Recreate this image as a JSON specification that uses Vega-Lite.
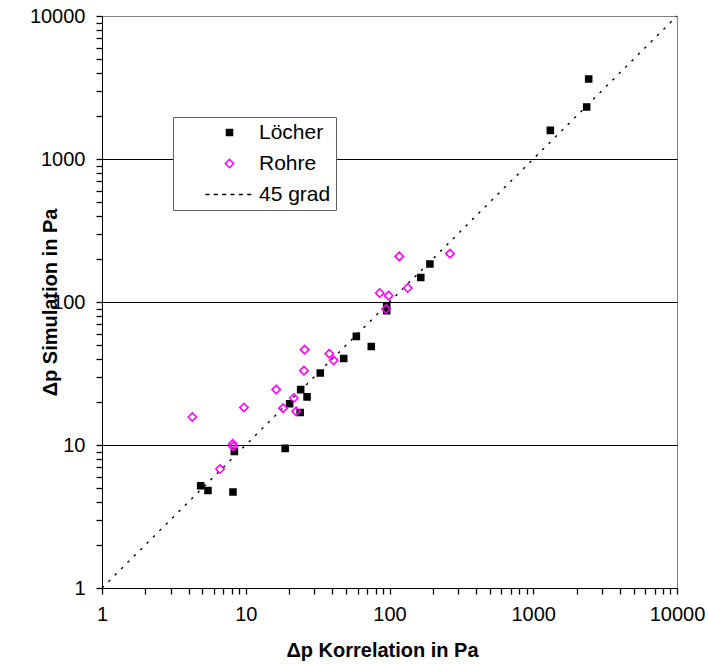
{
  "$schema": "https://vega.github.io/schema/vega-lite/v6.json",
  "width": 575,
  "height": 572,
  "autosize": {"type": "none"},
  "padding": {"left": 102, "top": 16, "right": 31, "bottom": 76},
  "background": "white",
  "config": {
    "font": "Liberation Sans",
    "view": {"stroke": "#808080", "strokeWidth": 1},
    "axis": {
      "domainColor": "black",
      "domainWidth": 1,
      "labelFont": "Liberation Sans",
      "labelFontSize": 20,
      "labelColor": "black",
      "titleFont": "Liberation Sans",
      "titleFontSize": 20,
      "titleFontWeight": "bold",
      "titleColor": "black"
    },
    "legend": {
      "symbolSize": 49,
      "symbolStrokeWidth": 1.6,
      "labelFont": "Liberation Sans",
      "labelFontSize": 21,
      "labelColor": "black"
    }
  },
  "datasets": {
    "messwerte": [
      {"series": "Löcher", "x": 191, "y": 184.5},
      {"series": "Löcher", "x": 165, "y": 148.6},
      {"series": "Löcher", "x": 95.6, "y": 93.2},
      {"series": "Löcher", "x": 95.6, "y": 87},
      {"series": "Löcher", "x": 58.8, "y": 57.5},
      {"series": "Löcher", "x": 74.7, "y": 48.9},
      {"series": "Löcher", "x": 48.0, "y": 40.3},
      {"series": "Löcher", "x": 33.0, "y": 31.9},
      {"series": "Löcher", "x": 24.1, "y": 24.4},
      {"series": "Löcher", "x": 26.7, "y": 21.7},
      {"series": "Löcher", "x": 20.2, "y": 19.4},
      {"series": "Löcher", "x": 23.9, "y": 16.9},
      {"series": "Löcher", "x": 18.8, "y": 9.47},
      {"series": "Löcher", "x": 8.33, "y": 9.02},
      {"series": "Löcher", "x": 4.86, "y": 5.19},
      {"series": "Löcher", "x": 5.46, "y": 4.81},
      {"series": "Löcher", "x": 8.15, "y": 4.69},
      {"series": "Löcher", "x": 1315, "y": 1585},
      {"series": "Löcher", "x": 2353, "y": 2311},
      {"series": "Löcher", "x": 2430, "y": 3625},
      {"series": "Rohre", "x": 263.6, "y": 217.7},
      {"series": "Rohre", "x": 117, "y": 208.4},
      {"series": "Rohre", "x": 133.9, "y": 125.3},
      {"series": "Rohre", "x": 85.5, "y": 115.6},
      {"series": "Rohre", "x": 98.7, "y": 110.7},
      {"series": "Rohre", "x": 94.6, "y": 89.3},
      {"series": "Rohre", "x": 25.7, "y": 46.4},
      {"series": "Rohre", "x": 38.1, "y": 43.5},
      {"series": "Rohre", "x": 40.9, "y": 39.1},
      {"series": "Rohre", "x": 25.4, "y": 33.1},
      {"series": "Rohre", "x": 16.3, "y": 24.4},
      {"series": "Rohre", "x": 9.72, "y": 18.3},
      {"series": "Rohre", "x": 21.6, "y": 21.3},
      {"series": "Rohre", "x": 18.2, "y": 18.1},
      {"series": "Rohre", "x": 22.4, "y": 17.2},
      {"series": "Rohre", "x": 4.25, "y": 15.7},
      {"series": "Rohre", "x": 8.11, "y": 10.2},
      {"series": "Rohre", "x": 8.19, "y": 9.78},
      {"series": "Rohre", "x": 6.62, "y": 6.79}
    ],
    "diagonale": [
      {"x": 1, "y": 1},
      {"x": 10000, "y": 10000}
    ]
  },
  "layer": [
    {
      "data": {"name": "diagonale"},
      "mark": {"type": "line", "color": "black", "strokeWidth": 1.4, "strokeDash": [2.5, 6.5]},
      "encoding": {
        "x": {"field": "x", "type": "quantitative", "scale": {"type": "log", "domain": [1, 10000], "nice": false}},
        "y": {"field": "y", "type": "quantitative", "scale": {"type": "log", "domain": [1, 10000], "nice": false}}
      }
    },
    {
      "data": {"name": "messwerte"},
      "mark": {"type": "point", "opacity": 1, "size": 49, "strokeWidth": 1.6},
      "encoding": {
        "x": {
          "field": "x",
          "type": "quantitative",
          "scale": {"type": "log", "domain": [1, 10000], "nice": false},
          "axis": {
            "title": "Δp Korrelation in Pa",
            "values": [1, 2, 3, 4, 5, 6, 7, 8, 9, 10, 20, 30, 40, 50, 60, 70, 80, 90, 100, 200, 300, 400, 500, 600, 700, 800, 900, 1000, 2000, 3000, 4000, 5000, 6000, 7000, 8000, 9000, 10000],
            "labelExpr": "indexof([1, 10, 100, 1000, 10000], datum.value) >= 0 ? format(datum.value, 'd') : ''",
            "labelPadding": 10,
            "labelFlush": false,
            "labelOverlap": false,
            "ticks": true,
            "tickSize": 6,
            "tickColor": "#000000",
            "tickWidth": 1.3,
            "grid": false,
            "titleX": 280,
            "titleY": 68,
            "titleBaseline": "alphabetic"
          }
        },
        "y": {
          "field": "y",
          "type": "quantitative",
          "scale": {"type": "log", "domain": [1, 10000], "nice": false},
          "axis": {
            "title": "Δp Simulation in Pa",
            "values": [1, 2, 3, 4, 5, 6, 7, 8, 9, 10, 20, 30, 40, 50, 60, 70, 80, 90, 100, 200, 300, 400, 500, 600, 700, 800, 900, 1000, 2000, 3000, 4000, 5000, 6000, 7000, 8000, 9000, 10000],
            "labelExpr": "indexof([1, 10, 100, 1000, 10000], datum.value) >= 0 ? format(datum.value, 'd') : ''",
            "labelPadding": 11,
            "labelFlush": false,
            "labelOverlap": false,
            "ticks": true,
            "tickSize": 6,
            "tickColor": "#000000",
            "tickWidth": 1.3,
            "grid": true,
            "gridColor": {"condition": {"test": "indexof([10, 100, 1000], datum.value) >= 0", "value": "black"}, "value": "transparent"},
            "gridWidth": 1,
            "titleX": -52,
            "titleY": 286,
            "titleAngle": -90,
            "titleBaseline": "middle"
          }
        },
        "shape": {
          "field": "series",
          "type": "nominal",
          "scale": {
            "domain": ["Löcher", "Rohre", "45 grad"],
            "range": [
              "M-0.85,-0.85H0.85V0.85H-0.85Z",
              "M-1.2,0L0,-1.2L1.2,0L0,1.2Z",
              "M-6.86,0H-5.71M-4.49,0H-3.34M-2.09,0H-0.94M0.29,0H1.43M2.66,0H3.8M5.06,0H6.2"
            ]
          },
          "legend": {
            "title": null,
            "orient": "none",
            "legendX": 71,
            "legendY": 101,
            "padding": 5,
            "rowPadding": 9,
            "symbolOffset": 41,
            "labelOffset": 19,
            "fillColor": "white",
            "strokeColor": "#606060",
            "labelExpr": "datum.label + '\u2003\u2003\u2003\u2005'"
          }
        },
        "stroke": {
          "field": "series",
          "type": "nominal",
          "scale": {"domain": ["Löcher", "Rohre", "45 grad"], "range": ["black", "#FF00FF", "black"]},
          "legend": {
            "title": null,
            "orient": "none",
            "legendX": 71,
            "legendY": 101,
            "padding": 5,
            "rowPadding": 9,
            "symbolOffset": 41,
            "labelOffset": 19,
            "fillColor": "white",
            "strokeColor": "#606060",
            "labelExpr": "datum.label + '\u2003\u2003\u2003\u2005'"
          }
        },
        "fill": {
          "field": "series",
          "type": "nominal",
          "scale": {"domain": ["Löcher", "Rohre", "45 grad"], "range": ["black", "transparent", "transparent"]},
          "legend": {
            "title": null,
            "orient": "none",
            "legendX": 71,
            "legendY": 101,
            "padding": 5,
            "rowPadding": 9,
            "symbolOffset": 41,
            "labelOffset": 19,
            "fillColor": "white",
            "strokeColor": "#606060",
            "labelExpr": "datum.label + '\u2003\u2003\u2003\u2005'"
          }
        }
      }
    }
  ]
}
